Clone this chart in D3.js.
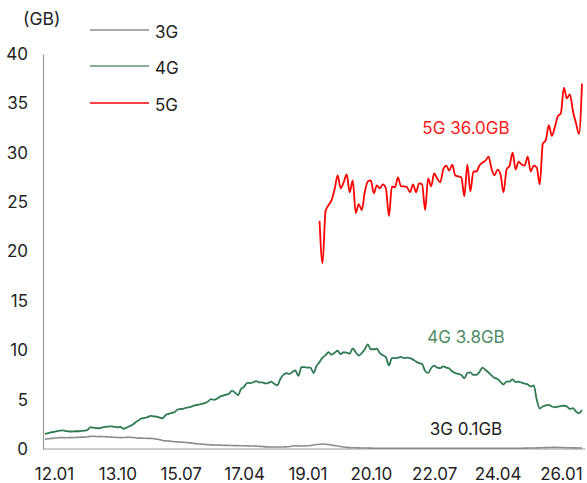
<!DOCTYPE html>
<html>
<head>
<meta charset="utf-8">
<script src="https://cdn.jsdelivr.net/npm/d3@7"></script>
<style>
  html, body { margin: 0; padding: 0; background: #fff; }
  svg { display: block; font-family: Inter, "Noto Sans", sans-serif; }
</style>
</head>
<body>
<svg id="chart" width="587" height="483"></svg>
<script>
// ---- data (monthly, index 0 = first month shown) ----
const xTickIndex = [3, 24, 45, 66, 87, 108, 129, 150, 171];
const xTickLabels = ["12.01", "13.10", "15.07", "17.04", "19.01", "20.10", "22.07", "24.04", "26.01"];
const yTicks = [0, 5, 10, 15, 20, 25, 30, 35, 40];

const series3G = [
  1.0,1.03,1.07,1.1,1.12,1.15,1.15,1.14,1.15,1.15,
  1.16,1.18,1.2,1.2,1.24,1.28,1.29,1.27,1.25,1.26,
  1.24,1.22,1.2,1.19,1.17,1.15,1.16,1.18,1.19,1.17,
  1.14,1.1,1.1,1.09,1.08,1.08,1.05,1.0,0.95,0.86,
  0.82,0.8,0.77,0.74,0.72,0.7,0.68,0.65,0.62,0.58,
  0.54,0.51,0.49,0.46,0.44,0.42,0.41,0.4,0.39,0.38,
  0.37,0.36,0.35,0.34,0.34,0.33,0.33,0.32,0.31,0.3,
  0.29,0.27,0.25,0.22,0.21,0.2,0.2,0.21,0.2,0.2,
  0.22,0.25,0.3,0.33,0.32,0.3,0.32,0.33,0.36,0.4,
  0.45,0.48,0.5,0.48,0.44,0.4,0.35,0.3,0.25,0.2,
  0.16,0.14,0.13,0.12,0.11,0.1,0.1,0.09,0.09,0.08,
  0.08,0.08,0.07,0.07,0.07,0.07,0.07,0.07,0.07,0.07,
  0.07,0.07,0.07,0.07,0.07,0.07,0.07,0.07,0.07,0.07,
  0.07,0.07,0.07,0.07,0.07,0.07,0.07,0.07,0.07,0.07,
  0.07,0.07,0.07,0.07,0.07,0.07,0.07,0.07,0.07,0.07,
  0.07,0.07,0.07,0.07,0.07,0.07,0.08,0.08,0.08,0.09,
  0.09,0.1,0.1,0.11,0.12,0.13,0.14,0.15,0.16,0.17,
  0.16,0.15,0.14,0.13,0.12,0.11,0.11,0.1,0.1
];

const series4G = [
  1.52,1.6,1.68,1.74,1.8,1.87,1.88,1.82,1.77,1.77,
  1.8,1.8,1.83,1.86,1.9,2.2,2.17,2.12,2.1,2.18,
  2.24,2.27,2.3,2.25,2.2,2.23,2.05,2.15,2.3,2.45,
  2.7,2.9,3.1,3.15,3.22,3.35,3.3,3.28,3.18,3.1,
  3.45,3.55,3.65,3.75,4.0,4.05,4.1,4.2,4.25,4.35,
  4.45,4.5,4.57,4.65,4.8,5.05,4.97,5.1,5.3,5.4,
  5.5,5.6,5.92,5.7,5.45,6.1,6.3,6.7,6.68,6.75,
  6.87,6.75,6.75,6.65,6.68,6.83,6.6,6.45,7.08,7.5,
  7.67,7.6,7.8,7.95,7.4,8.29,8.3,8.25,8.25,7.69,
  8.4,8.8,9.25,9.5,9.8,9.55,9.75,9.95,9.6,9.8,
  9.75,9.65,10.2,9.8,9.47,9.7,10.1,10.6,10.1,10.1,
  10.15,9.7,9.5,9.3,8.46,9.2,9.2,9.25,9.32,9.2,
  9.25,9.2,9.05,8.85,8.7,8.6,7.9,7.7,8.2,8.45,
  8.25,8.2,8.36,8.25,8.15,7.85,7.69,7.6,7.5,7.15,
  7.7,7.75,7.5,7.5,7.8,8.25,8.0,7.75,7.45,7.2,
  7.1,6.8,6.55,6.83,6.83,7.05,6.77,6.82,6.72,6.63,
  6.55,6.33,6.43,5.0,4.1,4.3,4.42,4.47,4.3,4.23,
  4.3,4.35,4.38,4.3,4.06,4.13,3.8,3.62,3.96
];

const start5G = 91;
const series5G = [
  23.1,18.8,24.1,24.7,25.2,26.3,27.7,26.4,27.0,27.8,
  26.0,27.2,23.9,24.8,24.2,26.0,27.1,27.2,25.9,26.7,
  26.4,26.8,26.4,23.6,26.6,26.5,27.5,26.6,26.6,26.5,
  26.0,26.8,26.0,26.9,26.8,24.2,27.4,26.6,27.9,27.4,
  27.0,28.3,28.7,28.2,28.8,27.7,27.6,27.5,25.6,28.8,
  26.1,28.1,28.1,28.7,29.0,29.2,29.6,28.4,27.7,28.3,
  27.8,26.0,28.3,28.7,30.0,28.3,29.1,28.8,28.7,29.6,
  28.1,28.7,28.5,26.8,30.9,31.3,32.8,31.7,32.6,33.7,
  34.0,36.6,35.5,35.9,34.2,33.0,31.9,37.0
];

const seriesNames = ["3G", "4G", "5G"];
const lineColors = ["#8c8c8c", "#2e7a52", "#ff0000"];
const legendColors = ["#8c8c8c", "#5f9274", "#ff0000"];
const endLabels = ["3G 0.1GB", "4G 3.8GB", "5G 36.0GB"];
const endLabelColors = ["#222222", "#4e8c65", "#ff1a1a"];
const endLabelValues = [1.4, 10.7, 31.9];

// ---- chart ----
const svg = d3.select("#chart");
const x = d3.scaleLinear().domain([0, 178]).range([45, 582]);
const y = d3.scaleLinear().domain([0, 40]).range([449, 54]);

// axes
const yAxis = svg.append("g")
  .attr("transform", "translate(43,0)")
  .call(d3.axisLeft(y).tickValues(yTicks).tickSize(0).tickSizeOuter(0).tickPadding(15));
yAxis.select(".domain").attr("stroke", "#999").attr("stroke-width", 1.2);
yAxis.selectAll("text").attr("font-size", 17).attr("fill", "#222").attr("font-family", "Inter, sans-serif");

const xAxis = svg.append("g")
  .attr("transform", "translate(0,449)")
  .call(d3.axisBottom(x).tickValues(xTickIndex).tickFormat((d, i) => xTickLabels[i]).tickSize(0).tickPadding(19));
xAxis.select(".domain").remove();
xAxis.selectAll("text").attr("font-size", 17).attr("fill", "#222").attr("font-family", "Inter, sans-serif");
svg.append("line")
  .attr("x1", 43).attr("x2", 585).attr("y1", 449).attr("y2", 449)
  .attr("stroke", "#999").attr("stroke-width", 1.2);

// unit label
svg.append("text").attr("x", 23).attr("y", 25)
  .attr("font-size", 17.5).attr("fill", "#222").text("(GB)");

// lines
const line = d3.line()
  .defined(d => d != null)
  .x(d => x(d.i)).y(d => y(d.v))
  .curve(d3.curveMonotoneX);

const data = [
  series3G.map((v, i) => ({ i, v })),
  series4G.map((v, i) => ({ i, v })),
  series5G.map((v, i) => ({ i: i + start5G, v }))
];
const widths = [1.6, 1.8, 1.8];

data.forEach((d, k) => {
  svg.append("path")
    .datum(d)
    .attr("fill", "none")
    .attr("stroke", lineColors[k])
    .attr("stroke-width", widths[k])
    .attr("stroke-linejoin", "round")
    .attr("d", line);
});

// end labels
endLabels.forEach((t, k) => {
  svg.append("text")
    .attr("x", 466).attr("y", y(endLabelValues[k]))
    .attr("text-anchor", "middle")
    .attr("font-size", 17)
    .attr("fill", endLabelColors[k])
    .text(t);
});

// legend
const legendY = [30, 66, 103];
seriesNames.forEach((n, k) => {
  svg.append("line")
    .attr("x1", 90).attr("x2", 149)
    .attr("y1", legendY[k]).attr("y2", legendY[k])
    .attr("stroke", legendColors[k]).attr("stroke-width", 1.5);
  svg.append("text")
    .attr("x", 155).attr("y", legendY[k] + 7.5)
    .attr("font-size", 17).attr("fill", "#222")
    .text(n);
});
</script>
</body>
</html>
